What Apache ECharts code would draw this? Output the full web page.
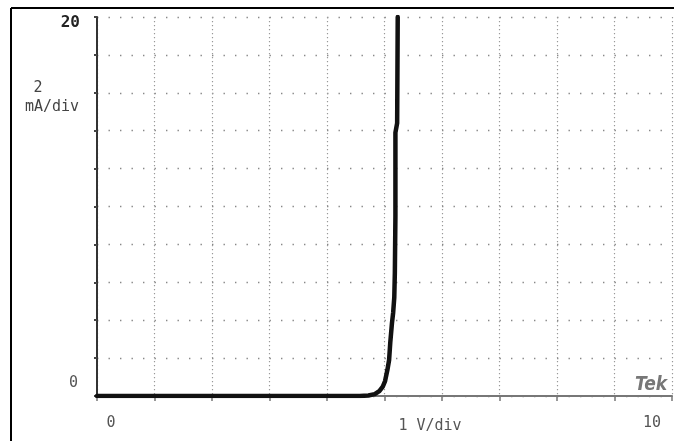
<!DOCTYPE html>
<html>
<head>
<meta charset="utf-8">
<script src="https://cdn.jsdelivr.net/npm/echarts@6/dist/echarts.min.js"></script>
<style>html,body{margin:0;padding:0;background:#fff}#c{width:674px;height:441px}</style>
</head>
<body>
<div id="c"></div>
<script>
// Diode I-V trace (curve tracer photo)
var voltage = [0, 1, 2, 3, 4, 4.57, 4.72, 4.83, 4.91, 4.97, 5.01, 5.05, 5.08, 5.10, 5.13, 5.15, 5.17, 5.18, 5.19, 5.19, 5.22, 5.23];
var current = [0, 0, 0, 0, 0, 0, 0.03, 0.1, 0.26, 0.5, 0.79, 1.37, 1.9, 2.8, 3.85, 4.38, 5.2, 6.5, 9.5, 13.9, 14.4, 20];
var xTickLabels = {0: '0', 10: '10'};
var yTickLabels = {0: '0', 20: '20'};
var yUnitValue = '2';
var yUnitText = 'mA/div';
var xUnitText = '1 V/div';
var brandText = 'Tek';

var mono = '"DejaVu Sans Mono", monospace';
var chart = echarts.init(document.getElementById('c'), null, {renderer: 'canvas'});
var data = voltage.map(function (v, i) { return [v, current[i]]; });

chart.setOption({
  backgroundColor: '#fff',
  animation: false,
  grid: {left: 97, top: 17, right: 2, bottom: 45, containLabel: false},
  xAxis: {
    type: 'value', min: 0, max: 10, interval: 1,
    axisLine: {show: true, lineStyle: {color: '#777', width: 2}},
    axisTick: {show: true, length: 5, lineStyle: {color: '#777', width: 1.5}},
    splitLine: {show: true, lineStyle: {color: '#999', width: 1.2, type: [1.2, 2.8]}},
    axisLabel: {
      show: true, interval: 0, showMinLabel: true, showMaxLabel: true, margin: 20,
      formatter: function (v) {
        if (v === 0) return '{a|' + xTickLabels[0] + '}';
        if (v === 10) return '{b|' + xTickLabels[10] + '}';
        return '';
      },
      rich: {
        a: {fontFamily: mono, fontSize: 15, color: '#555', padding: [0, 0, 0, 28]},
        b: {fontFamily: mono, fontSize: 15, color: '#555', padding: [0, 40, 0, 0]}
      }
    }
  },
  yAxis: {
    type: 'value', min: 0, max: 20, interval: 2,
    axisLine: {show: true, lineStyle: {color: '#333', width: 2}},
    axisTick: {show: true, length: 3, lineStyle: {color: '#444', width: 2}},
    splitLine: {show: true, lineStyle: {color: '#888', width: 1.4, type: [1.4, 10.1], dashOffset: 0}},
    axisLabel: {
      show: true, interval: 0, showMinLabel: true, showMaxLabel: true, margin: 17,
      formatter: function (v) {
        if (v === 0) return '{b|' + yTickLabels[0] + '}';
        if (v === 20) return '{t|' + yTickLabels[20] + '}';
        return '';
      },
      rich: {
        b: {fontFamily: mono, fontSize: 15, color: '#555', padding: [0, 2, 26, 0]},
        t: {fontFamily: mono, fontSize: 16, fontWeight: 'bold', color: '#222', padding: [12, 0, 0, 0]}
      }
    }
  },
  series: [{
    type: 'line',
    data: data,
    showSymbol: false,
    smooth: false,
    lineStyle: {color: '#111', width: 4.5, cap: 'round', join: 'round'},
    z: 5
  }],
  graphic: [
    {type: 'line', shape: {x1: 11, y1: 8, x2: 674, y2: 8}, style: {stroke: '#000', lineWidth: 2}},
    {type: 'line', shape: {x1: 11, y1: 8, x2: 11, y2: 441}, style: {stroke: '#000', lineWidth: 2}},
    {type: 'text', x: 38, y: 88, style: {text: yUnitValue, font: '15px ' + mono, fill: '#444', align: 'center', verticalAlign: 'middle'}},
    {type: 'text', x: 52, y: 107, style: {text: yUnitText, font: '15px ' + mono, fill: '#444', align: 'center', verticalAlign: 'middle'}},
    {type: 'text', x: 430, y: 426, style: {text: xUnitText, font: '15px ' + mono, fill: '#555', align: 'center', verticalAlign: 'middle'}},
    {type: 'text', x: 651, y: 395, style: {text: brandText, font: 'italic bold 19px "Liberation Sans Narrow", "DejaVu Sans Condensed", sans-serif', fill: '#777', align: 'center', verticalAlign: 'bottom'}}
  ]
});
</script>
</body>
</html>
